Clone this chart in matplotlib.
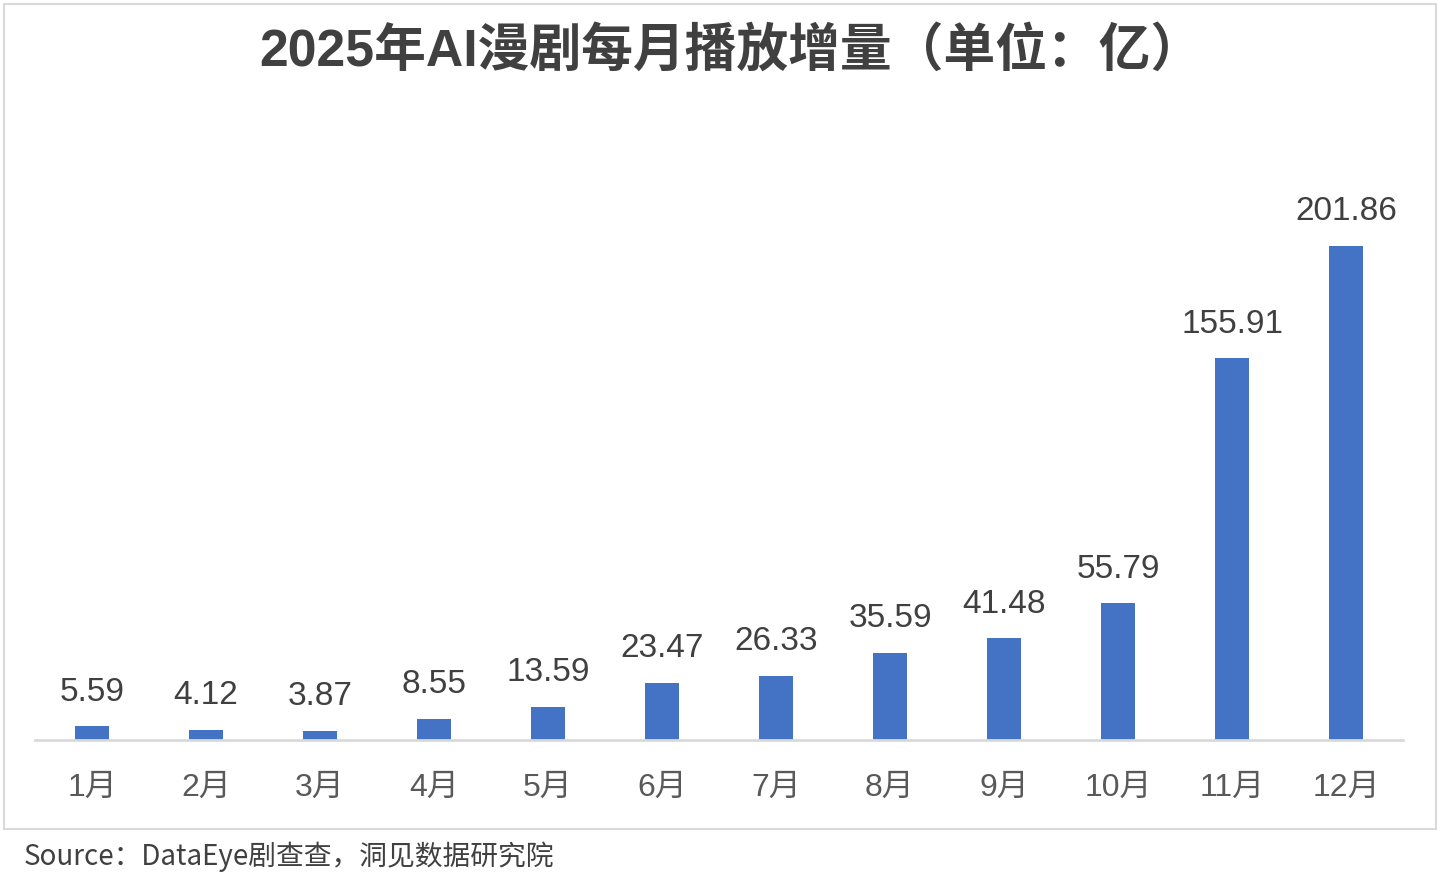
import matplotlib
matplotlib.use("Agg")
import matplotlib.pyplot as plt
from matplotlib.patches import Rectangle

# Chart data
months = ["1月", "2月", "3月", "4月", "5月", "6月", "7月", "8月", "9月", "10月", "11月", "12月"]
plays = [5.59, 4.12, 3.87, 8.55, 13.59, 23.47, 26.33, 35.59, 41.48, 55.79, 155.91, 201.86]

title = "2025年AI漫剧每月播放增量（单位：亿）"
source = "Source：DataEye剧查查，洞见数据研究院"

fonts = ["Liberation Sans", "Noto Sans CJK SC", "DejaVu Sans"]
plt.rcParams["font.family"] = fonts

fig = plt.figure(figsize=(14.4, 8.91), dpi=100)
W, H = 1440, 891

# axes placed in pixel terms of the reference
ax = fig.add_axes([35 / W, (H - 740) / H, (1403 - 35) / W, (740 - 130) / H])
x = list(range(len(months)))
bars = ax.bar(x, plays, width=0.29, color="#4472C4", zorder=2)

ax.set_xlim(-0.5, len(months) - 0.5)
ax.set_ylim(0, (740 - 130) / 2.447)

for b, v in zip(bars, plays):
    ax.annotate(f"{v:.2f}", (b.get_x() + b.get_width() / 2, v),
                xytext=(0, 13.5), textcoords="offset points",
                ha="center", va="bottom", fontsize=24, color="#404040")

ax.set_xticks(x)
ax.set_xticklabels(months, fontsize=23, color="#595959")
ax.tick_params(axis="x", length=0, pad=23.5)
ax.set_yticks([])
for s in ["top", "right", "left"]:
    ax.spines[s].set_visible(False)
ax.spines["bottom"].set_color("#D9D9D9")
ax.spines["bottom"].set_linewidth(2)

# chart border
fig.patches.append(Rectangle((4 / W, (H - 829) / H), (1436 - 4) / W, (829 - 4) / H,
                             transform=fig.transFigure, fill=False,
                             edgecolor="#D9D9D9", linewidth=1.5))

fig.text(731 / W, 1 - 52 / H, title, ha="center", va="center",
         fontsize=37.3, fontweight="bold", color="#404040")

fig.text(24 / W, 1 - 857 / H, source, ha="left", va="center",
         fontsize=20, color="#404040", family=["Noto Sans CJK SC", "DejaVu Sans"])

fig.savefig("out.png", dpi=100, facecolor="white")
